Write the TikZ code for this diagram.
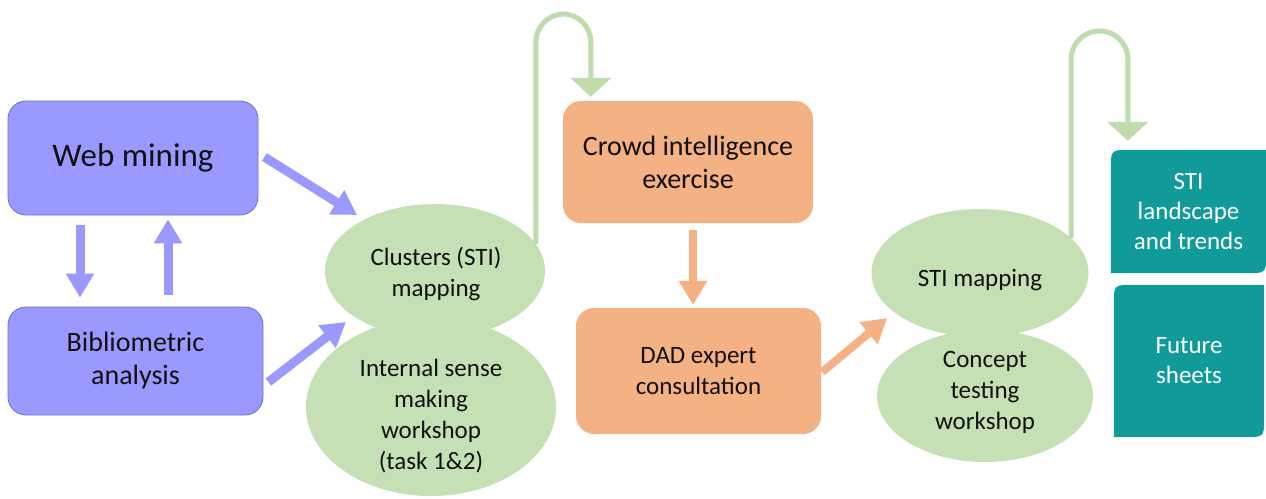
\documentclass[tikz,border=0pt]{standalone}
\usepackage{fontspec}
\setmainfont{Carlito}
\usetikzlibrary{shapes.geometric,arrows.meta,calc,backgrounds}
\definecolor{boxblue}{HTML}{9999FF}
\definecolor{edgeblue}{HTML}{6C6CD6}
\definecolor{leaf}{HTML}{C5E0B4}
\definecolor{leafline}{HTML}{BEDCAC}
\definecolor{peach}{HTML}{F4B183}
\definecolor{tealbox}{HTML}{109A9A}
\definecolor{ink}{HTML}{111111}

\begin{document}
\begin{tikzpicture}[x=1pt,y=-1pt,
  bluebox/.style={draw=edgeblue,line width=0.8pt,fill=boxblue,rounded corners=18pt,
    inner sep=0,align=center,text=ink},
  peachbox/.style={fill=peach,rounded corners=18pt,inner sep=0,align=center,text=ink},
  blob/.style={ellipse,fill=leaf,inner sep=0},
  blobtext/.style={inner sep=0,align=center,text=ink,font=\fontsize{25}{31}\selectfont},
  tealtext/.style={inner sep=0,align=center,text=white,font=\fontsize{25}{30}\selectfont},
  bluearrow/.style={draw=boxblue,line width=9pt,-{Triangle[width=27pt,length=24pt]}},
  peacharrow/.style={draw=peach,line width=8pt,-{Triangle[width=27pt,length=24pt]}},
  looparrow/.style={draw=leafline,line width=5pt,rounded corners=28pt,
    -{Triangle[width=40pt,length=19pt]}}]

\useasboundingbox (0,0) rectangle (1266,498);

% blue source boxes
\node[bluebox,minimum width=250pt,minimum height=114pt,
      font=\fontsize{33}{38}\selectfont] (web) at (133,158) {Web mining};
\node[bluebox,minimum width=255pt,minimum height=108pt,
      font=\fontsize{28}{33}\selectfont] (biblio) at (135.5,361) {Bibliometric\\analysis};

% green process blobs
\node[blob,minimum width=220pt,minimum height=134pt] (clusters) at (435,271) {};
\node[blob,minimum width=250pt,minimum height=178pt] (internal) at (431,407) {};
\node[blobtext] (clusterstext) at (436,274) {Clusters (STI)\\mapping};
\node[blobtext] (internaltext) at (431,416) {Internal sense\\making\\workshop\\(task 1\&2)};

\node[blob,minimum width=217pt,minimum height=128pt] (stimap) at (980,273) {};
\node[blob,minimum width=216pt,minimum height=132pt] (concept) at (985,396) {};
\node[blobtext] (stimaptext) at (980,280) {STI mapping};
\node[blobtext] (concepttext) at (985,392) {Concept\\testing\\workshop};

% orange consultation boxes
\node[peachbox,minimum width=250pt,minimum height=122pt,
      font=\fontsize{28}{33}\selectfont] (crowd) at (688,162) {Crowd intelligence\\exercise};
\node[peachbox,minimum width=245pt,minimum height=126pt,
      font=\fontsize{25}{31}\selectfont] (dad) at (698.5,371) {DAD expert\\consultation};

% teal output boxes (text first, shapes go underneath)
\node[tealtext,minimum width=155pt,minimum height=123pt] (sti) at (1188.5,211.5)
  {STI\\landscape\\and trends};
\node[tealtext,minimum width=150pt,minimum height=152pt] (future) at (1189,361)
  {Future\\sheets};

\begin{pgfonlayer}{background}
  \fill[white] (0,0) rectangle (1266,498);
  \foreach \b in {sti,future}{
    \fill[tealbox] (\b.south west) -- ($(\b.north west)+(0,20)$)
      .. controls (\b.north west) .. ($(\b.north west)+(20,0)$)
      -- (\b.north east) -- ($(\b.south east)+(0,-20)$)
      .. controls (\b.south east) .. ($(\b.south east)+(-20,0)$) -- cycle;
  }
\end{pgfonlayer}

% blue arrows
\coordinate (wbA) at ($(web.south)+(-53,10)$);
\coordinate (wbB) at ($(biblio.north)+(-55.5,-9)$);
\draw[bluearrow] (wbA) -- (wbB);
\coordinate (bwA) at ($(biblio.north)+(32.5,-12)$);
\coordinate (bwB) at ($(web.south)+(35,4)$);
\draw[bluearrow] (bwA) -- (bwB);
\coordinate (wcA) at ($(web.east)+(6,-1)$);
\coordinate (wcB) at ($(clusters.center)+(-78,-56)$);
\draw[bluearrow] (wcA) -- (wcB);
\coordinate (bcA) at ($(biblio.east)+(5,21)$);
\coordinate (bcB) at ($(clusters.center)+(-89,51)$);
\draw[bluearrow] (bcA) -- (bcB);

% orange arrows
\coordinate (cdA) at ($(crowd.south)+(5,7)$);
\coordinate (cdB) at ($(dad.north)+(-5.5,-3)$);
\draw[peacharrow] (cdA) -- (cdB);
\coordinate (dsA) at ($(dad.east)+(1,1)$);
\coordinate (dsB) at ($(stimap.center)+(-93,45)$);
\draw[peacharrow] (dsA) -- (dsB);

% green loop connectors
\coordinate (loopa) at (563,14);
\coordinate (loopaEnd) at ($(crowd.north west)+(28,-4)$);
\draw[looparrow] (clusters.15.6) -- (clusters.15.6 |- loopa)
  -- (loopaEnd |- loopa) -- (loopaEnd);
\coordinate (loopb) at (1099.5,31);
\coordinate (loopbEnd) at ($(sti.north west)+(17,-9)$);
\draw[looparrow] (stimap.21) -- (stimap.21 |- loopb)
  -- (loopbEnd |- loopb) -- (loopbEnd);
\end{tikzpicture}
\end{document}
